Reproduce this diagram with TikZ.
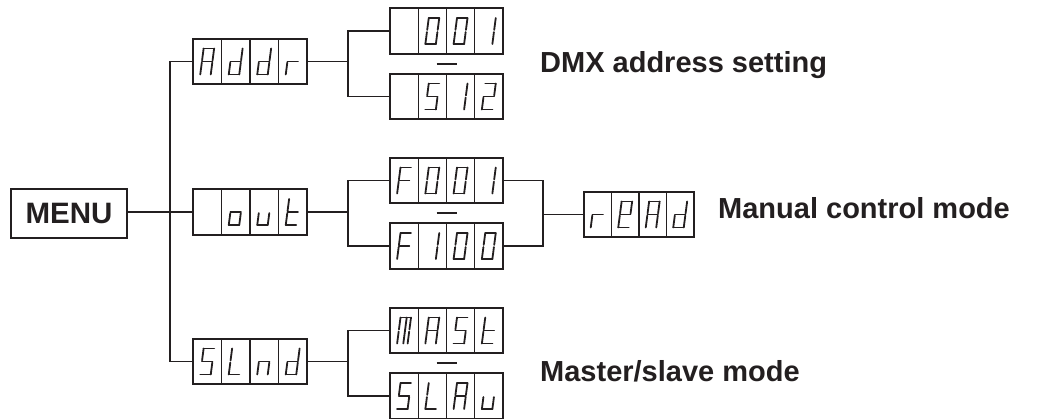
\documentclass[tikz,border=0pt]{standalone}
\usepackage{fontspec}
\setmainfont{Liberation Sans}
\usetikzlibrary{calc}
\definecolor{ink}{HTML}{231F20}
\def\dsA{\draw (0,26)--(10.5,26);}
\def\dsB{\draw (10.5,26)--(10.5,14.1);}
\def\dsC{\draw (10.5,11.9)--(10.5,0);}
\def\dsD{\draw (0,0)--(10.5,0);}
\def\dsE{\draw (0,11.9)--(0,0);}
\def\dsF{\draw (0,26)--(0,14.1);}
\def\dsG{\draw (0,13)--(10.5,13);}
\def\dsM{\draw (6.2,26)--(6.2,0);}
\newcommand\glyph[3]{%
  \begin{scope}[shift={(#1,#2)},xshift=-7pt,yshift=-13pt,xslant=0.13,seg]
    \foreach \s in {#3}{\csname ds\s\endcsname}
  \end{scope}}
\newcommand\disp[8]{%
  \node[dbox,minimum width=#4,anchor=west] (#1) at (#2,#3) {};
  \foreach \i in {1,2,3}{\draw[cellline] ($(#1.north west)!\i/4!(#1.north east)$) -- ($(#1.south west)!\i/4!(#1.south east)$);}
  \glyph{#2+#4/8}{#3}{#5}%
  \glyph{#2+3*#4/8}{#3}{#6}%
  \glyph{#2+5*#4/8}{#3}{#7}%
  \glyph{#2+7*#4/8}{#3}{#8}%
}
\tikzset{
  x=1pt,y=1pt,
  dbox/.style={draw=ink,line width=1.6pt,minimum height=45.5,inner sep=0pt,outer sep=0pt},
  cellline/.style={draw=ink,line width=1.3pt},
  seg/.style={draw=ink,line width=1.8pt,line cap=round,line join=round},
  conn/.style={draw=ink,line width=1.7pt},
  lbl/.style={text=ink,font=\bfseries\fontsize{29}{29}\selectfont,inner sep=0pt,anchor=base west},
}
\begin{document}
\begin{tikzpicture}
\useasboundingbox (0,0) rectangle (1037,-419);
% MENU
\node[dbox,minimum width=116,minimum height=49,text=ink,font=\bfseries\fontsize{29.5}{29.5}\selectfont] (menu) at (69,-213.5) {MENU};
% level 1
\disp{addr}{193}{-61.5}{114}{A,B,C,E,F,G}{B,C,D,E,G}{B,C,D,E,G}{E,G}
\disp{out}{193}{-212}{114}{}{C,D,E,G}{C,D,E}{D,E,F,G}
\disp{slnd}{193}{-361.5}{114}{A,C,D,F,G}{D,E,F}{C,E,G}{B,C,D,E,G}
% level 2
\disp{a001}{390}{-31}{113}{}{A,B,C,D,E,F}{A,B,C,D,E,F}{B,C}
\disp{a512}{390}{-96.5}{113}{}{A,C,D,F,G}{B,C}{A,B,D,E,G}
\disp{f001}{390}{-180.5}{113}{A,E,F,G}{A,B,C,D,E,F}{A,B,C,D,E,F}{B,C}
\disp{f100}{390}{-246}{113}{A,E,F,G}{B,C}{A,B,C,D,E,F}{A,B,C,D,E,F}
\disp{mast}{390}{-330.5}{113}{A,B,C,E,F,M}{A,B,C,E,F,G}{A,C,D,F,G}{D,E,F,G}
\disp{slau}{390}{-396}{113}{A,C,D,F,G}{D,E,F}{A,B,C,E,F,G}{C,D,E}
% level 3
\disp{read}{584}{-214.5}{110}{E,G}{A,B,D,E,F,G}{A,B,C,E,F,G}{B,C,D,E,G}
% connectors
\coordinate (trunk) at (170,0);
\coordinate (br) at (348,0);
\coordinate (fb) at (543,0);
\draw[conn] (menu.east |- out.west) -- (out.west);
\draw[conn] (addr.west) -- (addr.west -| trunk) -- (slnd.west -| trunk) -- (slnd.west);
\draw[conn] (addr.east) -- (addr.east -| br);
\draw[conn] (a001.west) -- (a001.west -| br) -- (a512.west -| br) -- (a512.west);
\draw[conn] (out.east) -- (out.east -| br);
\draw[conn] (f001.west) -- (f001.west -| br) -- (f100.west -| br) -- (f100.west);
\draw[conn] (slnd.east) -- (slnd.east -| br);
\draw[conn] (mast.west) -- (mast.west -| br) -- (slau.west -| br) -- (slau.west);
\draw[conn] (f001.east) -- (f001.east -| fb) -- (f100.east -| fb) -- (f100.east);
\draw[conn] (read.west -| fb) -- (read.west);
% dashes
\foreach \u/\l in {a001/a512,f001/f100,mast/slau}{
  \draw[conn] ($(\u.south)!0.5!(\l.north)$) ++(-10,0) -- ++(20,0);
}
% labels
\node[lbl] (l1) at (540,-73) {DMX address setting};
\node[lbl] (l2) at (718,-219) {Manual control mode};
\node[lbl] (l3) at (540,-382) {Master/slave mode};
\end{tikzpicture}
\end{document}
